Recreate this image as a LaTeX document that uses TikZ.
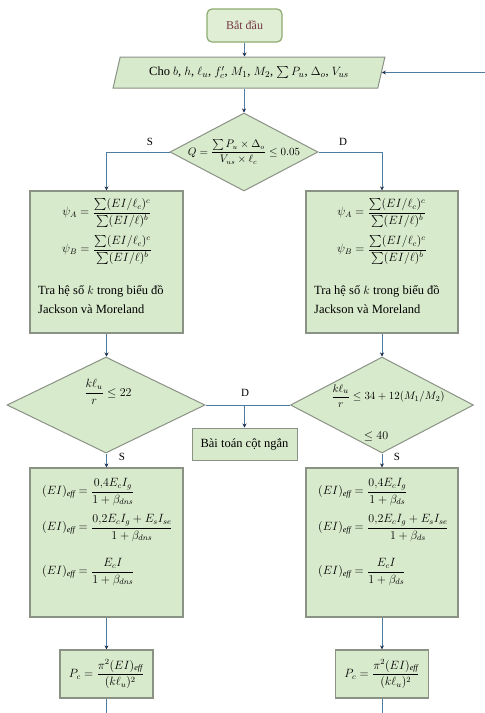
\documentclass[tikz,border=0pt]{standalone}
\usepackage{amsmath}
\usepackage{fontspec}
\setmainfont{Liberation Serif}
\usetikzlibrary{shapes.geometric,arrows.meta,calc}
\definecolor{boxfill}{RGB}{216,234,204}
\definecolor{boxdraw}{RGB}{138,146,134}
\definecolor{linec}{RGB}{78,124,160}
\definecolor{tipc}{RGB}{28,48,78}
\definecolor{startdraw}{RGB}{140,172,112}
\definecolor{starttext}{RGB}{118,56,66}
\tikzset{
  box/.style={draw=boxdraw, fill=boxfill, line width=1.2pt, inner sep=0pt},
  dia/.style={diamond, draw=boxdraw, fill=boxfill, line width=1pt, inner sep=0pt},
  startbox/.style={draw=startdraw, fill=boxfill!80, rounded corners=5pt, line width=1.2pt,
    text=starttext, inner sep=0pt, font=\fontsize{12}{14}\selectfont},
  conn/.style={draw=linec, line width=1pt},
  arr/.style={conn, -{Stealth[length=4pt,width=4pt,color=tipc]}},
  lbl/.style={inner sep=0pt, font=\fontsize{11}{13}\selectfont},
  txt/.style={inner sep=0pt, font=\fontsize{12.5}{19}\selectfont},
  fml/.style={inner sep=0pt, font=\fontsize{11.5}{14}\selectfont},
}
\begin{document}
\begin{tikzpicture}[x=1pt,y=-1pt]
\useasboundingbox (0,0) rectangle (485,713);
\fill[white] (0,0) rectangle (485,713);

% start
\node[startbox, minimum width=75, minimum height=33] (start) at (244.5,25.5) {Bắt đầu};

% input parallelogram
\node[trapezium, trapezium left angle=66, trapezium right angle=114, trapezium stretches=true,
      draw=boxdraw, fill=boxfill, line width=1pt, inner sep=0pt,
      minimum width=272, minimum height=31, font=\fontsize{12.5}{14}\selectfont] (in) at (249,72.5)
  {Cho $b$, $h$, $\ell_u$, $f'_c$, $M_1$, $M_2$, $\sum P_u$, $\Delta_o$, $V_{us}$};
\path (in.east) ++(112,0) coordinate (fb);

% Q decision
\node[dia, minimum width=148, minimum height=78] (q) at (244,152) {};
\node[fml, font=\fontsize{10.5}{12}\selectfont] (qt) at (244,152)
  {$Q=\dfrac{\sum P_u\times\Delta_o}{V_{us}\times\ell_c}\le 0.05$};

% upper boxes
\node[box, minimum width=153, minimum height=142] (a1) at (106.5,262) {};
\node[fml] (a1fa) at (107,213) {$\psi_A=\dfrac{\sum(EI/\ell_c)^{c}}{\sum(EI/\ell)^{b}}$};
\node[fml] (a1fb) at (107,250) {$\psi_B=\dfrac{\sum(EI/\ell_c)^{c}}{\sum(EI/\ell)^{b}}$};
\node[txt, anchor=north west, align=left] (a1t) at (38,285)
  {Tra hệ số $k$ trong biểu đồ\\Jackson và Moreland};

\node[box, minimum width=152, minimum height=142] (b1) at (382,262) {};
\node[fml] (b1fa) at (382,213) {$\psi_A=\dfrac{\sum(EI/\ell_c)^{c}}{\sum(EI/\ell)^{b}}$};
\node[fml] (b1fb) at (382,250) {$\psi_B=\dfrac{\sum(EI/\ell_c)^{c}}{\sum(EI/\ell)^{b}}$};
\node[txt, anchor=north west, align=left] (b1t) at (314,285)
  {Tra hệ số $k$ trong biểu đồ\\Jackson và Moreland};

% second decisions
\node[dia, minimum width=198, minimum height=96] (dl) at (106,405) {};
\node[fml, font=\fontsize{12}{14}\selectfont] (dlt) at (108,392) {$\dfrac{k\ell_u}{r}\le 22$};
\node[dia, minimum width=183, minimum height=96] (dr) at (382,405) {};
\node[fml, font=\fontsize{11}{13}\selectfont] (drt1) at (388,396) {$\dfrac{k\ell_u}{r}\le 34+12(M_1/M_2)$};
\node[fml, font=\fontsize{12}{14}\selectfont] (drt2) at (376,436) {$\le 40$};

% short column box
\node[box, line width=1pt, minimum width=105, minimum height=32, font=\fontsize{12.5}{14}\selectfont] (short) at (244.5,444)
  {Bài toán cột ngắn};

% lower boxes
\node[box, minimum width=153, minimum height=149] (a2) at (106.5,542.5) {};
\node[fml, anchor=west] (a2f1) at (42,492) {$(EI)_{\mathit{eff}}=\dfrac{0{,}4E_cI_g}{1+\beta_{dns}}$};
\node[fml, anchor=west] (a2f2) at (42,528) {$(EI)_{\mathit{eff}}=\dfrac{0{,}2E_cI_g+E_sI_{se}}{1+\beta_{dns}}$};
\node[fml, anchor=west] (a2f3) at (42,572) {$(EI)_{\mathit{eff}}=\dfrac{E_cI}{1+\beta_{dns}}$};

\node[box, minimum width=152, minimum height=149] (b2) at (382,542.5) {};
\node[fml, anchor=west] (b2f1) at (318,492) {$(EI)_{\mathit{eff}}=\dfrac{0{,}4E_cI_g}{1+\beta_{ds}}$};
\node[fml, anchor=west] (b2f2) at (318,528) {$(EI)_{\mathit{eff}}=\dfrac{0{,}2E_cI_g+E_sI_{se}}{1+\beta_{ds}}$};
\node[fml, anchor=west] (b2f3) at (318,572) {$(EI)_{\mathit{eff}}=\dfrac{E_cI}{1+\beta_{ds}}$};

% P boxes
\node[box, minimum width=93, minimum height=48] (pl) at (106.5,674) {};
\node[fml] (plt) at (pl.center) {$P_c=\dfrac{\pi^2(EI)_{\mathit{eff}}}{(k\ell_u)^2}$};
\node[box, minimum width=93, minimum height=48] (pr) at (382,674) {};
\node[fml] (prt) at (pr.center) {$P_c=\dfrac{\pi^2(EI)_{\mathit{eff}}}{(k\ell_u)^2}$};
\coordinate (endl) at (106.5,713);
\coordinate (endr) at (382,713);

% connectors
\draw[arr] (start) -- (start |- in.north);
\draw[arr] (fb) -- (in.east);
\draw[arr] (q |- in.south) -- (q.north);
\draw[arr] (q.west) -| (a1.north);
\draw[arr] (q.east) -| (b1.north);
\node[lbl] (ls1) at (150,142) {S};
\node[lbl] (ld1) at (343,142) {D};
\draw[arr] (a1) -- (a1 |- dl.north);
\draw[arr] (b1) -- (dr);
\draw[conn] (dl.east) -- (dr.west);
\node[lbl] (ld2) at (245,393) {D};
\draw[arr] (dl.east -| short) -- (short);
\draw[arr] (a2 |- dl.south) -- (a2);
\draw[arr] (dr) -- (b2);
\node[lbl] (ls2) at (122,457) {S};
\node[lbl] (ls3) at (397,457) {S};
\draw[arr] (a2) -- (pl);
\draw[arr] (b2) -- (pr);
\draw[conn] (pl) -- (endl);
\draw[conn] (pr) -- (endr);
\end{tikzpicture}
\end{document}
